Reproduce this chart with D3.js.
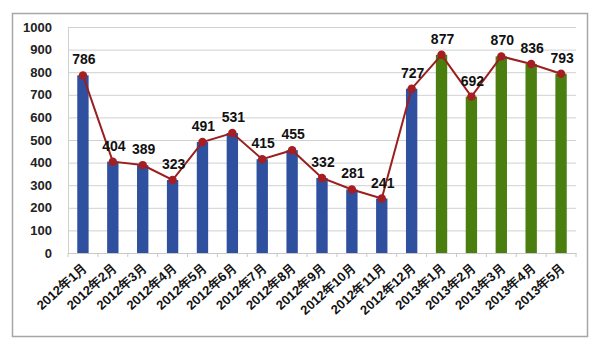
<!DOCTYPE html>
<html><head><meta charset="utf-8">
<script src="https://cdn.jsdelivr.net/npm/d3@7/dist/d3.min.js"></script>
<style>body{margin:0;background:#fff}svg{display:block}</style>
</head><body>
<script>
const categories = ["2012年1月","2012年2月","2012年3月","2012年4月","2012年5月","2012年6月","2012年7月","2012年8月","2012年9月","2012年10月","2012年11月","2012年12月","2013年1月","2013年2月","2013年3月","2013年4月","2013年5月"];
const values = [786,404,389,323,491,531,415,455,332,281,241,727,877,692,870,836,793];
const yTicks = [0,100,200,300,400,500,600,700,800,900,1000];

(function(){
const W=600,H=346;
const svg=d3.select("body").append("svg").attr("width",W).attr("height",H);
svg.append("rect").attr("x",12.5).attr("y",13.5).attr("width",575).attr("height",323)
  .attr("fill","#fff").attr("stroke","#a6a6a6").attr("stroke-width",1.5);

const pL=68,pR=576,pT=27,pB=253;
const x=d3.scaleBand().domain(categories).range([pL,pR]).paddingInner(0.62).paddingOuter(0.31);
const xb=d3.scaleBand().domain(categories).range([pL,pR]);
const y=d3.scaleLinear().domain([0,1000]).range([pB,pT]);
const F="'Liberation Sans',Arial,sans-serif";

svg.append("g").selectAll("line").data(yTicks.slice(1)).join("line")
  .attr("x1",pL).attr("x2",pR).attr("y1",d=>y(d)+0.5).attr("y2",d=>y(d)+0.5)
  .attr("stroke","#d0d0d0").attr("stroke-width",1);

const ya=svg.append("g").attr("transform",`translate(${pL},0)`).call(d3.axisLeft(y).tickValues(yTicks).tickFormat(d3.format("d")).tickSize(0).tickPadding(16));
ya.select(".domain").attr("stroke","#d0d0d0");
ya.selectAll("text").attr("font-family",F).attr("font-size",13).attr("font-weight","bold").attr("fill","#222");

svg.append("g").selectAll("rect").data(values).join("rect")
  .attr("x",(d,i)=>x(categories[i])).attr("width",x.bandwidth())
  .attr("y",d=>y(d)).attr("height",d=>pB-y(d))
  .attr("fill",(d,i)=>categories[i].startsWith("2013")?"#4a7e0f":"#2f4f9f");

const xa=svg.append("g").attr("transform",`translate(0,${pB})`).call(d3.axisBottom(xb).tickSize(0).tickPadding(0));
xa.select(".domain").attr("stroke","#c8c8c8");
xa.selectAll(".tick line").remove();
svg.append("g").selectAll("line").data(d3.range(categories.length+1)).join("line")
  .attr("x1",i=>pL+i*xb.bandwidth()).attr("x2",i=>pL+i*xb.bandwidth())
  .attr("y1",pB).attr("y2",pB+4).attr("stroke","#c8c8c8");
xa.selectAll("text").attr("font-family",F).attr("font-size",13).attr("font-weight","bold").attr("fill","#111")
  .attr("text-anchor","end").attr("dy","0").attr("y",0)
  .attr("transform","translate(5,16) rotate(-42)");

const cx=(i)=>xb(categories[i])+xb.bandwidth()/2;
svg.append("path").datum(values)
  .attr("d",d3.line().x((d,i)=>cx(i)).y(d=>y(d)))
  .attr("fill","none").attr("stroke","#9a1f1f").attr("stroke-width",2);
svg.append("g").selectAll("circle").data(values).join("circle")
  .attr("cx",(d,i)=>cx(i)).attr("cy",d=>y(d)).attr("r",4.2).attr("fill","#a41e22");

svg.append("g").selectAll("text").data(values).join("text")
  .attr("x",(d,i)=>cx(i)+1).attr("y",d=>y(d)-11)
  .attr("text-anchor","middle").attr("font-family",F)
  .attr("font-size",14).attr("font-weight","bold").attr("fill","#111").text(d=>d);
})();
</script>
</body></html>
